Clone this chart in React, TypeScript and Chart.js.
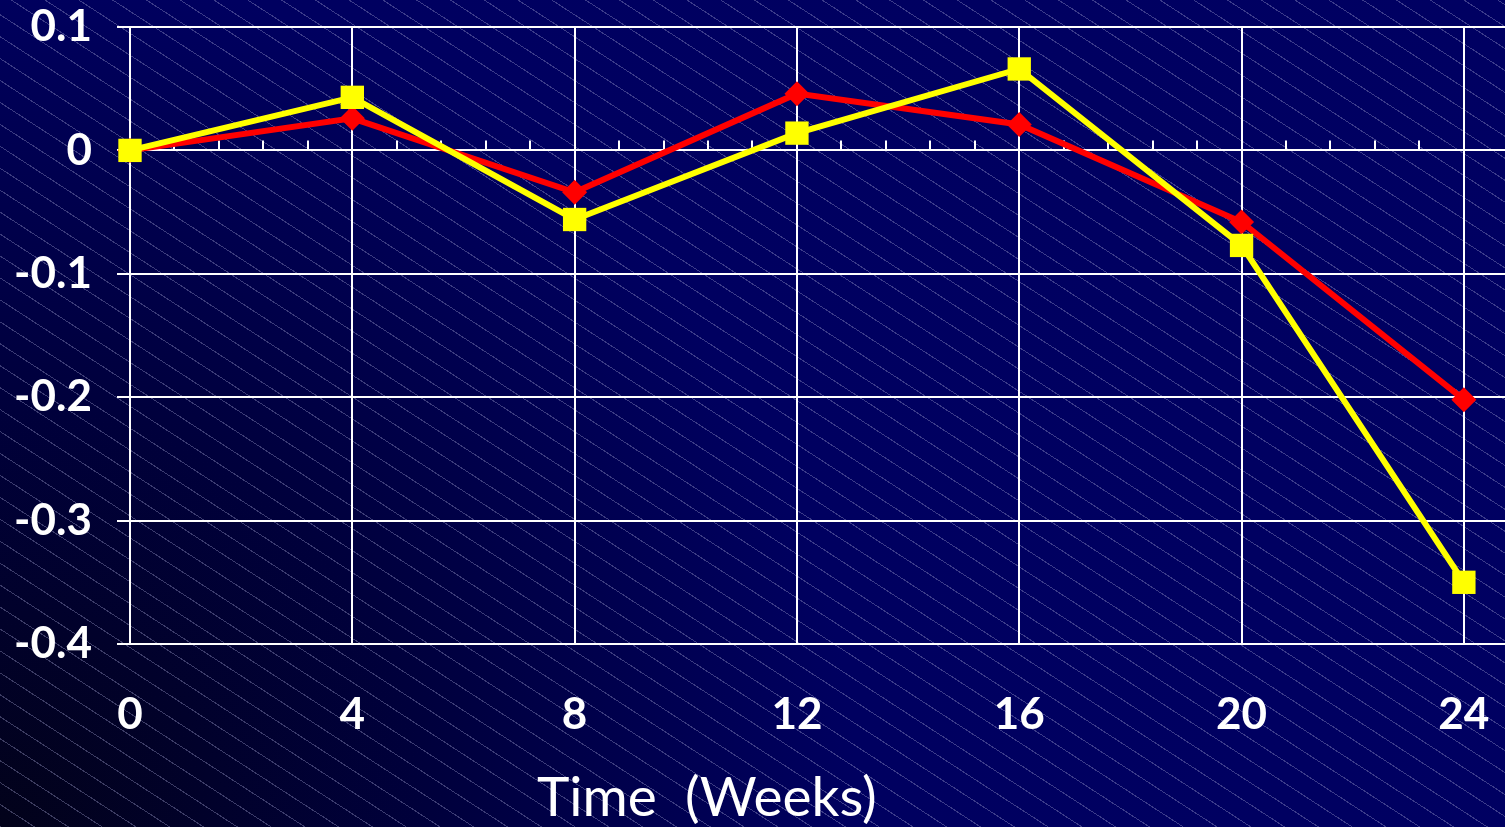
import React, { useEffect, useRef } from "react";
import { Chart, registerables } from "chart.js";

Chart.register(...registerables);

// ---- data ----
const weeks = [0, 4, 8, 12, 16, 20, 24];
const redValues = [0, 0.026, -0.034, 0.046, 0.021, -0.058, -0.202];
const yellowValues = [0, 0.043, -0.056, 0.014, 0.066, -0.077, -0.35];
const xTickValues = [0, 4, 8, 12, 16, 20, 24];
const yTickValues = [-0.4, -0.3, -0.2, -0.1, 0, 0.1];
const minorTickStep = 0.8;
const xTitle = "Time  (Weeks)";

const W = 1505;
const H = 827;

const minorTicksPlugin = {
  id: "minorTicks",
  beforeDatasetsDraw(chart: any) {
    const xs = chart.scales.x;
    const ys = chart.scales.y;
    const ctx = chart.ctx;
    const y0 = ys.getPixelForValue(0);
    ctx.save();
    ctx.strokeStyle = "#ffffff";
    ctx.lineWidth = 2;
    ctx.beginPath();
    const last = xTickValues[xTickValues.length - 1];
    for (let i = 1; i * minorTickStep < last - 1e-6; i++) {
      if (i % 5 === 0) continue;
      const px = Math.round(xs.getPixelForValue(i * minorTickStep));
      ctx.moveTo(px, y0);
      ctx.lineTo(px, y0 - 10);
    }
    ctx.stroke();
    ctx.restore();
  },
};

export default function App() {
  const ref = useRef<HTMLCanvasElement | null>(null);

  useEffect(() => {
    document.body.style.margin = "0";
    const canvas = ref.current;
    if (!canvas) return;
    const chart = new Chart(canvas, {
      type: "line",
      data: {
        datasets: [
          {
            label: "Yellow",
            data: weeks.map((w, i) => ({ x: w, y: yellowValues[i] })),
            borderColor: "#ffff00",
            backgroundColor: "#ffff00",
            borderWidth: 6,
            pointStyle: "rect",
            pointRadius: 16.5,
            pointBorderWidth: 0,
            pointBackgroundColor: "#ffff00",
            clip: false as any,
            tension: 0,
          },
          {
            label: "Red",
            data: weeks.map((w, i) => ({ x: w, y: redValues[i] })),
            borderColor: "#ff0000",
            backgroundColor: "#ff0000",
            borderWidth: 6,
            pointStyle: "rectRot",
            pointRadius: 12.5,
            pointBorderWidth: 0,
            pointBackgroundColor: "#ff0000",
            clip: false as any,
            tension: 0,
          },
        ],
      },
      options: {
        responsive: false,
        animation: false,
        events: [],
        layout: { autoPadding: false, padding: { left: 0, top: 27, right: 0, bottom: 0 } },
        plugins: {
          legend: { display: false },
          tooltip: { enabled: false },
          title: { display: false },
        },
        scales: {
          x: {
            type: "linear",
            min: 0,
            max: 24.74,
            border: { display: false },
            grid: {
              color: "#ffffff",
              lineWidth: 2,
              drawTicks: false,
            },
            afterBuildTicks(scale: any) {
              scale.ticks = xTickValues.map((v) => ({ value: v }));
            },
            afterFit(scale: any) {
              scale.height = 183;
              scale.paddingLeft = 0;
              scale.paddingRight = 0;
            },
            ticks: {
              color: "#ffffff",
              padding: 44,
              maxRotation: 0,
              autoSkip: false,
              font: { family: "Lato", weight: "bold", size: 44 },
              callback: (v: any) => String(v),
            },
          },
          y: {
            type: "linear",
            min: -0.4,
            max: 0.1,
            border: { display: false },
            grid: {
              color: "#ffffff",
              lineWidth: 2,
              drawTicks: true,
              tickLength: 13,
            },
            afterBuildTicks(scale: any) {
              scale.ticks = yTickValues.map((v) => ({ value: v }));
            },
            afterFit(scale: any) {
              scale.width = 130;
              scale.paddingTop = 0;
              scale.paddingBottom = 0;
            },
            ticks: {
              color: "#ffffff",
              padding: 25,
              autoSkip: false,
              font: { family: "Lato", weight: "bold", size: 44 },
              callback: (v: any) => String(Number(Number(v).toFixed(1))),
            },
          },
        },
      },
      plugins: [minorTicksPlugin],
    });
    return () => chart.destroy();
  }, []);

  return (
    <div
      style={{
        position: "fixed",
        left: 0,
        top: 0,
        width: W,
        height: H,
        overflow: "hidden",
        background:
          "repeating-linear-gradient(33deg, rgba(165,165,210,0.36) 0px, rgba(165,165,210,0.36) 1px, rgba(0,0,0,0) 1px, rgba(0,0,0,0) 18.4px), radial-gradient(circle at 0% 100%, #02021a 0%, #00003c 25%, #000060 50%, #000062 100%)",
      }}
    >
      <canvas ref={ref} width={W} height={H} style={{ position: "absolute", left: 0, top: 0 }} />
      <div
        style={{
          position: "absolute",
          left: 537,
          top: 769,
          fontFamily: "Lato",
          fontSize: 55,
          lineHeight: "52px",
          color: "#ffffff",
          whiteSpace: "pre",
        }}
      >
        {xTitle}
      </div>
    </div>
  );
}
